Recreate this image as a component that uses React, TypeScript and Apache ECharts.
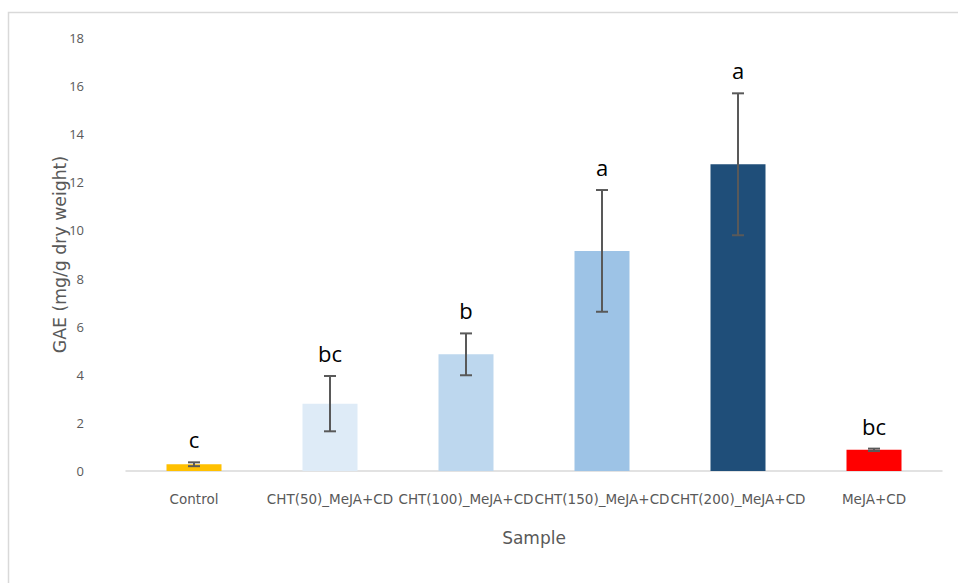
import React, { useEffect, useRef } from "react";
import * as echarts from "echarts";

const categories = [
  "Control",
  "CHT(50)_MeJA+CD",
  "CHT(100)_MeJA+CD",
  "CHT(150)_MeJA+CD",
  "CHT(200)_MeJA+CD",
  "MeJA+CD",
];
const values = [0.28, 2.8, 4.85, 9.15, 12.75, 0.88];
const errors = [0.08, 1.15, 0.87, 2.53, 2.95, 0.05];
const letters = ["c", "bc", "b", "a", "a", "bc"];
const colors = ["#FFC000", "#DEEBF7", "#BDD7EE", "#9DC3E6", "#1F4E79", "#FF0000"];
const yTicks = { min: 0, max: 18, interval: 2 };

export default function App() {
  const ref = useRef<HTMLDivElement>(null);
  useEffect(() => {
    if (!ref.current) return;
    const chart = echarts.init(ref.current, undefined, { renderer: "svg" });
    const font = "'Open Sans', 'Noto Sans', sans-serif";
    const wide = "'DejaVu Sans', 'Open Sans', sans-serif";
    chart.setOption({
      animation: false,
      backgroundColor: "#fff",
      graphic: [
        {
          type: "rect",
          shape: { x: 8.5, y: 12.5, width: 1000, height: 1000 },
          style: { fill: "none", stroke: "#D9D9D9", lineWidth: 1.5 },
          silent: true,
        },
      ],
      grid: { left: 126, right: 16, top: 38, bottom: 112 },
      xAxis: {
        type: "category",
        data: categories,
        name: "Sample",
        nameLocation: "middle",
        nameGap: 58,
        nameMoveOverlap: false,
        nameTextStyle: { color: "#595959", fontSize: 17, fontFamily: wide },
        axisLine: { lineStyle: { color: "#D9D9D9", width: 1.5 } },
        axisTick: { show: false },
        axisLabel: {
          interval: 0,
          color: "#595959",
          fontSize: 13.5,
          fontFamily: wide,
          margin: 21,
        },
      },
      yAxis: {
        type: "value",
        min: yTicks.min,
        max: yTicks.max,
        interval: yTicks.interval,
        name: "GAE (mg/g dry weight)",
        nameLocation: "middle",
        nameGap: 58,
        nameMoveOverlap: false,
        nameTextStyle: { color: "#595959", fontSize: 17.3, fontFamily: wide },
        splitLine: { show: false },
        axisLine: { show: false },
        axisTick: { show: false },
        axisLabel: { color: "#595959", fontSize: 13, fontFamily: font, margin: 42 },
      },
      series: [
        {
          type: "bar",
          barWidth: 55,
          data: values.map((v, i) => ({ value: v, itemStyle: { color: colors[i] } })),
        },
        {
          type: "custom",
          data: values.map((v, i) => [i, v, errors[i]]),
          z: 10,
          renderItem: (params: any, api: any) => {
            const i = api.value(0);
            const v = api.value(1);
            const e = api.value(2);
            const top = api.coord([i, v + e]);
            const bot = api.coord([i, v - e]);
            const x = top[0];
            const hw = 6;
            const st = { stroke: "#595959", lineWidth: 2 };
            return {
              type: "group",
              children: [
                { type: "line", shape: { x1: x, y1: top[1], x2: x, y2: bot[1] }, style: st },
                { type: "line", shape: { x1: x - hw, y1: top[1], x2: x + hw, y2: top[1] }, style: st },
                { type: "line", shape: { x1: x - hw, y1: bot[1], x2: x + hw, y2: bot[1] }, style: st },
                {
                  type: "text",
                  style: {
                    text: letters[params.dataIndex],
                    x: x,
                    y: top[1] - 12,
                    align: "center",
                    verticalAlign: "bottom",
                    fill: "#000",
                    fontSize: 22,
                    fontFamily: font,
                  },
                },
              ],
            };
          },
        },
      ],
    });
    return () => chart.dispose();
  }, []);
  return (
    <div
      ref={ref}
      style={{ position: "fixed", left: 0, top: 0, width: 958, height: 583 }}
    />
  );
}
